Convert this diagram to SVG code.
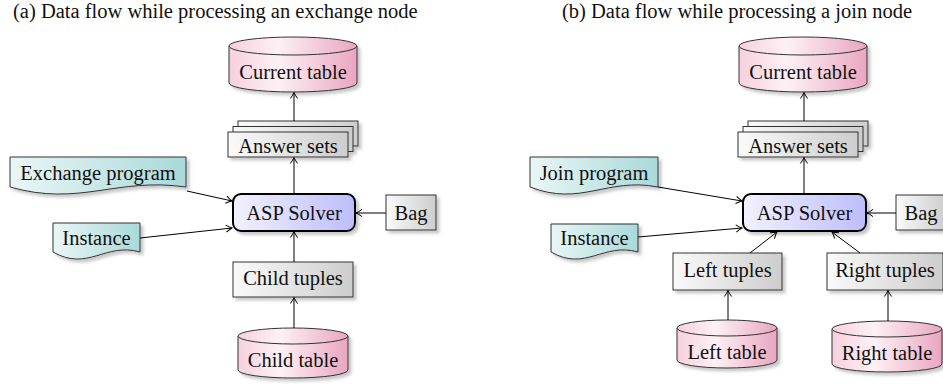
<svg xmlns="http://www.w3.org/2000/svg" width="943" height="384" viewBox="0 0 943 384">
<defs>
<linearGradient id="gCyl" x1="0" y1="0" x2="1" y2="0">
<stop offset="0" stop-color="#f6d0de"/><stop offset="0.38" stop-color="#fdf1f5"/><stop offset="1" stop-color="#e9a6c0"/>
</linearGradient>
<linearGradient id="gBox" x1="0" y1="0" x2="1" y2="0">
<stop offset="0" stop-color="#fafafa"/><stop offset="1" stop-color="#cdcdcd"/>
</linearGradient>
<linearGradient id="gSolver" x1="0" y1="0" x2="1" y2="0">
<stop offset="0" stop-color="#f2f2ff"/><stop offset="1" stop-color="#bdbdfb"/>
</linearGradient>
<linearGradient id="gDoc" x1="0" y1="0" x2="1" y2="0">
<stop offset="0" stop-color="#eaf6f6"/><stop offset="1" stop-color="#a9d9d9"/>
</linearGradient>
<filter id="sh" x="-10%" y="-20%" width="130%" height="160%">
<feDropShadow dx="3" dy="3" stdDeviation="1.6" flood-color="#777" flood-opacity="0.4"/>
</filter>
<marker id="ah" viewBox="-8 -5 10 10" refX="0" refY="0" markerWidth="10" markerHeight="10" markerUnits="userSpaceOnUse" orient="auto">
<path d="M-6,-3.6 Q-2.5,-1 0,0 Q-2.5,1 -6,3.6" fill="none" stroke="#000" stroke-width="1"/>
</marker>
</defs>
<style>
text{font-family:"Liberation Serif","Times New Roman",serif;font-size:20.5px;fill:#111;text-anchor:middle}
.cap{text-anchor:start}
.cyl{fill:url(#gCyl);stroke:#333;stroke-width:1}
.box{fill:url(#gBox);stroke:#333;stroke-width:1}
.solver{fill:url(#gSolver);stroke:#000;stroke-width:2}
.doc{fill:url(#gDoc);stroke:#333;stroke-width:1}
.sh{filter:url(#sh)}
.arr{fill:none;stroke:#000;stroke-width:1;marker-end:url(#ah)}
</style>

<text class="cap" x="13" y="18" font-family="Liberation Serif, serif">(a) Data flow while processing an exchange node</text>
<text class="cap" x="562" y="18" font-family="Liberation Serif, serif">(b) Data flow while processing a join node</text>

<!-- ===== Panel (a) ===== -->
<g id="a-current-table">
<g class="sh"><path class="cyl" d="M229,46 A64,9 0 0 1 357,46 V83 A64,9 0 0 1 229,83 Z"/>
<path class="cyl" d="M229,46 A64,9 0 0 0 357,46" fill="none"/></g>
<text x="293" y="79" font-family="Liberation Serif, serif">Current table</text>
</g>
<g id="a-answer-sets">
<g class="sh"><rect class="box" x="238" y="121" width="120" height="25"/>
<rect class="box" x="233" y="126.5" width="120" height="25"/>
<rect class="box" x="228" y="132" width="120" height="25"/></g>
<text x="288" y="153" font-family="Liberation Serif, serif">Answer sets</text>
</g>
<g id="a-exchange-program">
<path class="doc sh" d="M10,157 H186 V187 C115.6,177 80.4,207 10,187 Z"/>
<text x="98" y="180" font-family="Liberation Serif, serif">Exchange program</text>
</g>
<g id="a-instance">
<path class="doc sh" d="M53,223 H140 V252 C105.2,242 87.8,272 53,252 Z"/>
<text x="96.5" y="245" font-family="Liberation Serif, serif">Instance</text>
</g>
<g id="a-asp-solver">
<rect class="solver sh" x="233" y="194" width="122" height="37" rx="8"/>
<text x="294" y="220" font-family="Liberation Serif, serif">ASP Solver</text>
</g>
<g id="a-bag">
<rect class="box sh" x="386" y="195" width="50" height="35"/>
<text x="411" y="220" font-family="Liberation Serif, serif">Bag</text>
</g>
<g id="a-child-tuples">
<rect class="box sh" x="233" y="262" width="120" height="35"/>
<text x="293" y="285" font-family="Liberation Serif, serif">Child tuples</text>
</g>
<g id="a-child-table">
<g class="sh"><path class="cyl" d="M238,336 A55,8 0 0 1 348,336 V370 A55,8 0 0 1 238,370 Z"/>
<path class="cyl" d="M238,336 A55,8 0 0 0 348,336" fill="none"/></g>
<text x="293" y="367" font-family="Liberation Serif, serif">Child table</text>
</g>

<!-- ===== Panel (b) ===== -->
<g id="b-current-table">
<g class="sh"><path class="cyl" d="M739,46 A64,9 0 0 1 867,46 V83 A64,9 0 0 1 739,83 Z"/>
<path class="cyl" d="M739,46 A64,9 0 0 0 867,46" fill="none"/></g>
<text x="803" y="79" font-family="Liberation Serif, serif">Current table</text>
</g>
<g id="b-answer-sets">
<g class="sh"><rect class="box" x="748" y="121" width="120" height="25"/>
<rect class="box" x="743" y="126.5" width="120" height="25"/>
<rect class="box" x="738" y="132" width="120" height="25"/></g>
<text x="798" y="153" font-family="Liberation Serif, serif">Answer sets</text>
</g>
<g id="b-join-program">
<path class="doc sh" d="M530,157 H658 V187 C606.8,177 581.2,207 530,187 Z"/>
<text x="594" y="180" font-family="Liberation Serif, serif">Join program</text>
</g>
<g id="b-instance">
<path class="doc sh" d="M551,224 H638 V252 C603.2,242 585.8,272 551,252 Z"/>
<text x="594.5" y="245" font-family="Liberation Serif, serif">Instance</text>
</g>
<g id="b-asp-solver">
<rect class="solver sh" x="743" y="194" width="123" height="37" rx="8"/>
<text x="804.5" y="220" font-family="Liberation Serif, serif">ASP Solver</text>
</g>
<g id="b-bag">
<rect class="box sh" x="896" y="195" width="50" height="35"/>
<text x="921" y="220" font-family="Liberation Serif, serif">Bag</text>
</g>
<g id="b-left-tuples">
<rect class="box sh" x="673" y="253" width="109" height="37"/>
<text x="727.5" y="277" font-family="Liberation Serif, serif">Left tuples</text>
</g>
<g id="b-right-tuples">
<rect class="box sh" x="827" y="253" width="116" height="37"/>
<text x="885" y="277" font-family="Liberation Serif, serif">Right tuples</text>
</g>
<g id="b-left-table">
<g class="sh"><path class="cyl" d="M677,328 A50,8 0 0 1 777,328 V360 A50,8 0 0 1 677,360 Z"/>
<path class="cyl" d="M677,328 A50,8 0 0 0 777,328" fill="none"/></g>
<text x="727" y="359" font-family="Liberation Serif, serif">Left table</text>
</g>
<g id="b-right-table">
<g class="sh"><path class="cyl" d="M832,329 A55,8 0 0 1 942,329 V364 A55,8 0 0 1 832,364 Z"/>
<path class="cyl" d="M832,329 A55,8 0 0 0 942,329" fill="none"/></g>
<text x="887" y="360" font-family="Liberation Serif, serif">Right table</text>
</g>

<g id="connectors">
<line class="arr" x1="294" y1="121" x2="294" y2="92.5"/>
<line class="arr" x1="294" y1="194" x2="294" y2="157.5"/>
<line class="arr" x1="187" y1="191" x2="232" y2="201"/>
<line class="arr" x1="140" y1="238" x2="232" y2="228"/>
<line class="arr" x1="386" y1="213" x2="356" y2="213"/>
<line class="arr" x1="294" y1="262" x2="294" y2="231.5"/>
<line class="arr" x1="294" y1="328" x2="294" y2="297.5"/>
<line class="arr" x1="804" y1="121" x2="804" y2="92.5"/>
<line class="arr" x1="804" y1="194" x2="804" y2="157.5"/>
<line class="arr" x1="658" y1="187" x2="742" y2="201"/>
<line class="arr" x1="638" y1="237" x2="742" y2="228"/>
<line class="arr" x1="896" y1="213" x2="867" y2="213"/>
<line class="arr" x1="750" y1="253" x2="777" y2="232"/>
<line class="arr" x1="860" y1="253" x2="832" y2="232"/>
<line class="arr" x1="728" y1="320" x2="728" y2="290.5"/>
<line class="arr" x1="888" y1="321" x2="888" y2="290.5"/>
</g>
</svg>
